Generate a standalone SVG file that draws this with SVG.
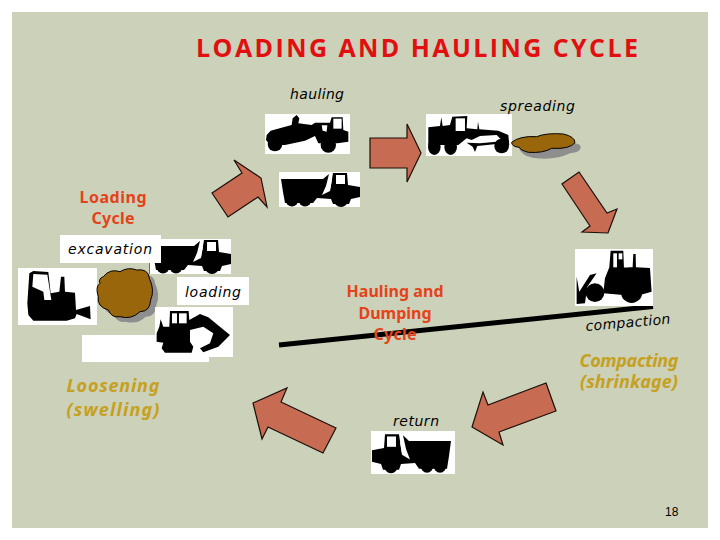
<svg xmlns="http://www.w3.org/2000/svg" width="720" height="540" viewBox="0 0 720 540">
<style>
.arrow{fill:#C76B52;stroke:#1a0f0a;stroke-width:1.2;stroke-linejoin:miter}
.pic{fill:#fff}
.k{fill:#000}
.w{fill:#fff}
.lab{font-family:"DejaVu Sans",sans-serif;font-style:italic;font-size:14px;fill:#000}
.red{font-family:"Noto Sans",sans-serif;font-weight:bold;font-size:16px;fill:#E4431A;text-anchor:middle}
.gold{font-family:"Noto Sans",sans-serif;font-weight:bold;font-style:italic;font-size:18px;fill:#C6A020;text-anchor:middle}
.pile{fill:#99660C;stroke:#000;stroke-width:3}
.shadow{fill:#8E8E8E}
</style>
<defs>
<g id="truck">
<path class="k" d="M2,7 L44,7 L50,2 L47,14 L43,23 L51,19 L54,1 L68,1 L69,13 L81,15 L81,25 L72,27 L70,32 L54,32 L52,27 L38,26 L34,31 L6,31 L4,20 Z"/>
<circle class="k" cx="13" cy="28" r="6.500"/><circle class="k" cx="26" cy="28" r="6.500"/><circle class="k" cx="62" cy="28" r="7"/>
<rect class="w" x="57" y="3" width="9" height="9"/>
<path class="w" d="M50,8 L53,8 L51,18 L45,20 Z"/>
</g>
</defs>
<rect width="720" height="540" fill="#fff"/>
<rect x="12" y="12" width="696" height="516" fill="#CCD1B9"/>

<g id="connectors">
<polygon class="arrow" points="370,138 407,138 407,124 421,153 407,182 407,168 370,168"/>
<polygon class="arrow" points="579,172 607,213 617,209 608,233 582,232 590,226 562,184"/>
<polygon class="arrow" points="212,193 242,173 234,160 261,178 267,207 258,197 228,217"/>
<polygon class="arrow" points="546,383 556,411 499,432 503,445 472,427 483,392 488,405"/>
<polygon class="arrow" points="336,428 323,453 268,427 262,439 253,403 287,388 281,402"/>
<line x1="279" y1="345" x2="653" y2="306.500" stroke="#000" stroke-width="5"/>
</g>

<g id="scraper-node">
<rect class="pic" x="265" y="114" width="85" height="40"/>
<g transform="translate(250,90) scale(.3333)">
<path class="k" d="M48,150 L50,135 L62,122 L100,112 L125,105 L128,85 L140,75 L148,85 L145,100 L185,105 L195,98 L240,98 L245,82 L278,82 L280,120 L295,125 L295,155 L262,160 L205,160 L195,138 L165,152 L105,165 L60,165 Z"/>
<circle class="k" cx="75" cy="162" r="22"/><circle class="k" cx="235" cy="165" r="23"/>
<rect class="w" x="250" y="86" width="25" height="30"/>
<path class="w" d="M215,106 L232,106 L230,125 L218,122 Z"/>
</g>
</g>

<g id="truck-node">
<rect class="pic" x="279" y="172" width="81" height="35"/>
<use href="#truck" x="279" y="172"/>
</g>

<g id="grader-node">
<rect class="pic" x="426" y="114" width="86" height="42"/>
<g transform="translate(250,90) scale(.3333)">
<path class="k" d="M535,112 L570,108 L574,82 L578,108 L600,105 L607,80 L652,78 L650,115 L682,118 L684,95 L688,118 L745,122 L775,135 L778,165 L770,165 L740,135 L690,138 L665,150 L650,145 L625,165 L535,165 Z"/>
<ellipse class="k" cx="553" cy="170" rx="19" ry="25"/><ellipse class="k" cx="602" cy="170" rx="19" ry="25"/><circle class="k" cx="755" cy="168" r="22"/>
<rect class="w" x="617" y="85" width="28" height="38"/>
<path class="k" d="M650,158 L690,160 L740,155 L740,162 L682,168 L675,186 L668,170 Z"/>
</g>
</g>

<g id="spread-pile">
<g transform="translate(250,90) scale(.3333)">
<path class="shadow" d="M805,165 Q830,147 880,150 Q940,142 990,165 Q1000,185 960,190 Q920,210 860,205 Q810,200 805,165 Z"/>
<path d="M785,157 Q810,137 860,140 Q890,128 940,132 Q975,140 975,158 Q960,178 905,175 Q880,190 835,187 Q810,180 808,172 Q785,170 785,157 Z" fill="#99660C" stroke="#000" stroke-width="3"/>
</g>
</g>

<g id="dozer-node">
<rect class="pic" x="18" y="268" width="79" height="57"/>
<g transform="translate(0,170) scale(.3333)">
<path class="k" d="M88,310 L100,303 L145,306 L152,370 L178,365 L183,320 L193,320 L195,365 L225,368 L228,420 L270,408 L272,448 L230,432 L225,445 L200,452 L100,452 L85,435 L82,400 Z"/>
<path class="w" d="M100,312 L142,314 L154,390 L133,390 L130,365 L97,350 Z"/>
</g>
</g>

<g id="excavation-truck">
<rect class="pic" x="149" y="239" width="82" height="35"/>
<line x1="149.500" y1="263" x2="149.500" y2="274" stroke="#B23BB2" stroke-width="1"/>
<use href="#truck" x="150" y="239"/>
</g>

<g id="excavation-node">
<rect class="pic" x="60" y="235" width="101" height="28"/>
<text class="lab" x="68" y="254" textLength="84" lengthAdjust="spacing">excavation</text>
</g>

<g id="soil-pile">
<g transform="translate(0,170) scale(.3333)">
<path class="shadow" d="M327,335 Q347,310 377,320 Q402,305 427,315 Q462,310 465,340 Q482,375 469,405 Q467,440 437,440 Q412,465 377,455 Q352,460 342,435 Q307,425 312,395 Q302,365 317,355 Q312,340 327,335 Z"/>
<path class="pile" d="M310,320 Q330,295 360,305 Q385,290 410,300 Q445,295 448,325 Q465,360 452,390 Q450,425 420,425 Q395,450 360,440 Q335,445 325,420 Q290,410 295,380 Q285,350 300,340 Q295,325 310,320 Z"/>
</g>
</g>

<g id="blank-box"><rect class="pic" x="82" y="335" width="127" height="27"/></g>

<g id="excavator-node">
<rect class="pic" x="155" y="307" width="78" height="50"/>
<g transform="translate(0,170) scale(.3333)">
<path class="k" d="M470,490 L478,470 L482,448 L490,470 L508,470 L510,423 L566,423 L568,450 L600,432 L625,442 L690,495 L655,530 L610,547 L600,535 L630,520 L640,490 L610,470 L570,480 L570,515 L580,530 L575,548 L495,548 L485,535 L490,518 L470,515 Z"/>
<rect class="w" x="516" y="430" width="15" height="30"/><rect class="w" x="537" y="430" width="23" height="30"/>
</g>
</g>

<g id="loading-node">
<rect class="pic" x="177" y="277" width="72" height="28"/>
<text class="lab" x="185" y="297" textLength="56" lengthAdjust="spacing">loading</text>
</g>

<g id="compactor-node">
<rect class="pic" x="575" y="249" width="78" height="57"/>
<g transform="translate(270,180) scale(.3333)">
<path class="k" d="M1022,212 L1060,212 L1062,262 L1088,262 L1090,222 L1097,222 L1098,262 L1140,264 L1145,335 L1110,345 L1060,345 L1000,340 L1005,295 L1018,262 Z"/>
<circle class="k" cx="975" cy="338" r="28"/><circle class="k" cx="1085" cy="337" r="32"/>
<path class="k" d="M920,290 L928,335 L960,285 L980,280 L952,320 L945,370 L920,372 Z"/>
<rect class="w" x="1030" y="220" width="11" height="42"/><rect class="w" x="1046" y="220" width="11" height="18"/><rect class="w" x="1062" y="240" width="14" height="22"/>
</g>
</g>

<g id="return-node">
<rect class="pic" x="371" y="431" width="84" height="43"/>
<use href="#truck" transform="translate(453,433) scale(-1,1.15)"/>
</g>

<g id="labels">
<text x="196" y="57" font-family="'Open Sans','DejaVu Sans',sans-serif" font-weight="700" font-size="25" fill="#E10F0F" textLength="442" lengthAdjust="spacing">LOADING AND HAULING CYCLE</text>
<text class="lab" x="290" y="99" textLength="54" lengthAdjust="spacing">hauling</text>
<text class="lab" x="500" y="111" textLength="75" lengthAdjust="spacing">spreading</text>
<text class="red" x="113" y="203" textLength="67" lengthAdjust="spacing">Loading</text>
<text class="red" x="113" y="224" textLength="43" lengthAdjust="spacing">Cycle</text>
<text class="red" x="395" y="297" textLength="97" lengthAdjust="spacing">Hauling and</text>
<text class="red" x="395" y="319" textLength="73" lengthAdjust="spacing">Dumping</text>
<text class="red" x="395" y="340" textLength="43" lengthAdjust="spacing">Cycle</text>
<text class="lab" transform="translate(586,331) rotate(-5)" textLength="85" lengthAdjust="spacing">compaction</text>
<text class="gold" x="629" y="367" textLength="99" lengthAdjust="spacing">Compacting</text>
<text class="gold" x="629" y="388" textLength="98" lengthAdjust="spacing">(shrinkage)</text>
<text class="gold" x="113" y="392" textLength="93" lengthAdjust="spacing">Loosening</text>
<text class="gold" x="113" y="416" textLength="93" lengthAdjust="spacing">(swelling)</text>
<text class="lab" x="393" y="426" textLength="46" lengthAdjust="spacing">return</text>
<text x="665" y="516" font-family="'Liberation Sans',sans-serif" font-size="12" fill="#000">18</text>
</g>
</svg>
